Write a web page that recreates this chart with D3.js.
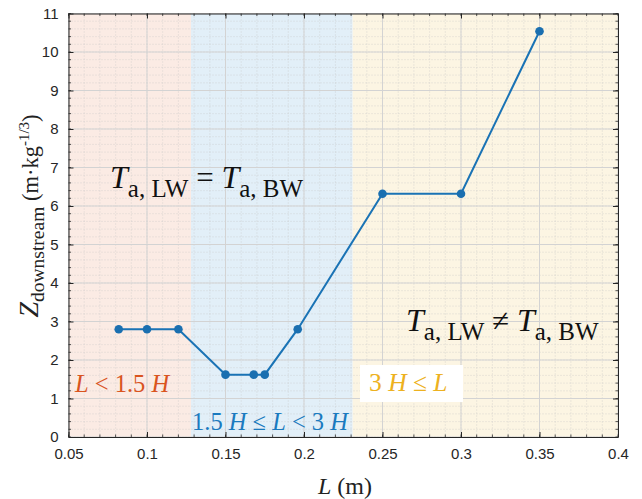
<!DOCTYPE html>
<html><head><meta charset="utf-8">
<script src="https://cdn.jsdelivr.net/npm/d3@7"></script>
<style>body{margin:0;background:#fff}svg{display:block}</style>
</head><body><svg id="c" width="642" height="499"></svg>
<script>
const L = [0.082, 0.1, 0.12, 0.15, 0.168, 0.175, 0.196, 0.25, 0.3, 0.35];
const Z = [2.8, 2.8, 2.8, 1.62, 1.62, 1.62, 2.8, 6.32, 6.32, 10.54];
const regionBounds = [0.05, 0.128, 0.231, 0.4];
const regionColors = ["#fbebe4", "#e2eff8", "#fcf5e3"];
const xTicks = [0.05, 0.1, 0.15, 0.2, 0.25, 0.3, 0.35, 0.4];
const yTicks = [0,1,2,3,4,5,6,7,8,9,10,11];

const svg = d3.select("#c");
const m = {l:68.5, r:618, t:13.5, b:437};
const x = d3.scaleLinear().domain([0.05,0.4]).range([m.l,m.r]);
const y = d3.scaleLinear().domain([0,11]).range([m.b,m.t]);

// regions
for (let i=0;i<3;i++){
  svg.append("rect").attr("x",x(regionBounds[i])).attr("y",m.t)
    .attr("width",x(regionBounds[i+1])-x(regionBounds[i])).attr("height",m.b-m.t)
    .attr("fill",regionColors[i]);
}
// minor grid
const g = svg.append("g");
const xMinor = d3.range(0.05,0.4001,0.01);
const yMinor = d3.range(0,11.001,0.2);
g.selectAll(".xm").data(xMinor).enter().append("line")
  .attr("x1",d=>x(d)).attr("x2",d=>x(d)).attr("y1",m.t).attr("y2",m.b)
  .attr("stroke","#c4c4c4").attr("stroke-width",0.6).attr("stroke-dasharray","1,2");
g.selectAll(".ym").data(yMinor).enter().append("line")
  .attr("y1",d=>y(d)).attr("y2",d=>y(d)).attr("x1",m.l).attr("x2",m.r)
  .attr("stroke","#c4c4c4").attr("stroke-width",0.6).attr("stroke-dasharray","1,2");
// major grid
g.selectAll(".xg").data(xTicks).enter().append("line")
  .attr("x1",d=>x(d)).attr("x2",d=>x(d)).attr("y1",m.t).attr("y2",m.b)
  .attr("stroke","#d3d3d3").attr("stroke-width",1);
g.selectAll(".yg").data(yTicks).enter().append("line")
  .attr("y1",d=>y(d)).attr("y2",d=>y(d)).attr("x1",m.l).attr("x2",m.r)
  .attr("stroke","#d3d3d3").attr("stroke-width",1);

// "3 H <= L" box
svg.append("rect").attr("x",360).attr("y",365).attr("width",103).attr("height",37).attr("fill","#ffffff");

// axes
const axCol = "#262626";
function styleAxis(sel){
  sel.selectAll("path").attr("stroke",axCol);
  sel.selectAll("line").attr("stroke",axCol);
  sel.selectAll("text").attr("fill",axCol).style("font-family","'Liberation Sans', Arial, sans-serif").style("font-size","15px");
}
const fmt = d=>String(+d.toFixed(2));
const xb = svg.append("g").attr("transform",`translate(0,${m.b})`)
  .call(d3.axisBottom(x).tickValues(xTicks).tickFormat(fmt).tickSize(-5).tickSizeOuter(0).tickPadding(11));
styleAxis(xb);
const xt = svg.append("g").attr("transform",`translate(0,${m.t})`)
  .call(d3.axisTop(x).tickValues(xTicks).tickFormat("").tickSize(-5).tickSizeOuter(0));
styleAxis(xt);
const yl = svg.append("g").attr("transform",`translate(${m.l},0)`)
  .call(d3.axisLeft(y).tickValues(yTicks).tickFormat(d3.format("d")).tickSize(-5).tickSizeOuter(0).tickPadding(10));
styleAxis(yl);
const yr = svg.append("g").attr("transform",`translate(${m.r},0)`)
  .call(d3.axisRight(y).tickValues(yTicks).tickFormat("").tickSize(-5).tickSizeOuter(0));
styleAxis(yr);
// minor ticks
const mt = svg.append("g").attr("stroke",axCol).attr("stroke-width",0.8);
xMinor.forEach(d=>{
  mt.append("line").attr("x1",x(d)).attr("x2",x(d)).attr("y1",m.b).attr("y2",m.b-2.5);
  mt.append("line").attr("x1",x(d)).attr("x2",x(d)).attr("y1",m.t).attr("y2",m.t+2.5);
});
yMinor.forEach(d=>{
  mt.append("line").attr("y1",y(d)).attr("y2",y(d)).attr("x1",m.l).attr("x2",m.l+2.5);
  mt.append("line").attr("y1",y(d)).attr("y2",y(d)).attr("x1",m.r).attr("x2",m.r-2.5);
});

// data line
const pts = L.map((d,i)=>[d,Z[i]]);
svg.append("path").datum(pts).attr("fill","none").attr("stroke","#1a73b5").attr("stroke-width",2)
  .attr("d",d3.line().x(d=>x(d[0])).y(d=>y(d[1])));
svg.selectAll(".pt").data(pts).enter().append("circle")
  .attr("cx",d=>x(d[0])).attr("cy",d=>y(d[1])).attr("r",4.3).attr("fill","#1a6fb0");

// annotations
const serif = "'Liberation Serif','Times New Roman',serif";
function eqText(xp, yp, op){
  const t = svg.append("text").attr("x",xp).attr("y",yp).style("font-family",serif).attr("fill","#111");
  t.append("tspan").text("T").style("font-style","italic").style("font-size","32px");
  t.append("tspan").text("a, LW").style("font-size","25px").attr("dy",9);
  t.append("tspan").text(" "+op+" ").style("font-size","31px").attr("dy",-9);
  t.append("tspan").text("T").style("font-style","italic").style("font-size","32px");
  t.append("tspan").text("a, BW").style("font-size","25px").attr("dy",9);
}
eqText(110, 188, "=");
eqText(406, 331, "≠");

function rich(xp, yp, parts, col, fs){
  const t = svg.append("text").attr("x",xp).attr("y",yp).style("font-family",serif)
    .style("font-size",fs+"px").attr("fill",col);
  parts.forEach(p=>t.append("tspan").text(p[0]).style("font-style",p[1]?"italic":"normal"));
}
rich(75, 392, [["L",1],[" < 1.5 ",0],["H",1]], "#d9541e", 24.5);
rich(192, 430, [["1.5 ",0],["H",1],[" ≤ ",0],["L",1],[" < 3 ",0],["H",1]], "#1a7abf", 24.5);
rich(369, 391, [["3 ",0],["H",1],[" ≤ ",0],["L",1]], "#edb120", 25.5);

// axis labels
const xl = svg.append("text").attr("x",345).attr("y",494).attr("text-anchor","middle")
  .style("font-family",serif).style("font-size","24px").attr("fill","#222");
xl.append("tspan").text("L").style("font-style","italic");
xl.append("tspan").text(" (m)");

const ylab = svg.append("text").attr("transform","translate(38,216) rotate(-90)").attr("text-anchor","middle")
  .style("font-family",serif).attr("fill","#222");
ylab.append("tspan").text("Z").style("font-style","italic").style("font-size","28px");
ylab.append("tspan").text("downstream").style("font-size","19.5px").attr("dy",6);
ylab.append("tspan").text(" (m·kg").style("font-size","22.5px").attr("dy",-6);
ylab.append("tspan").text("-1/3").style("font-size","15px").attr("dy",-9);
ylab.append("tspan").text(")").style("font-size","22.5px").attr("dy",9);
</script></body></html>
